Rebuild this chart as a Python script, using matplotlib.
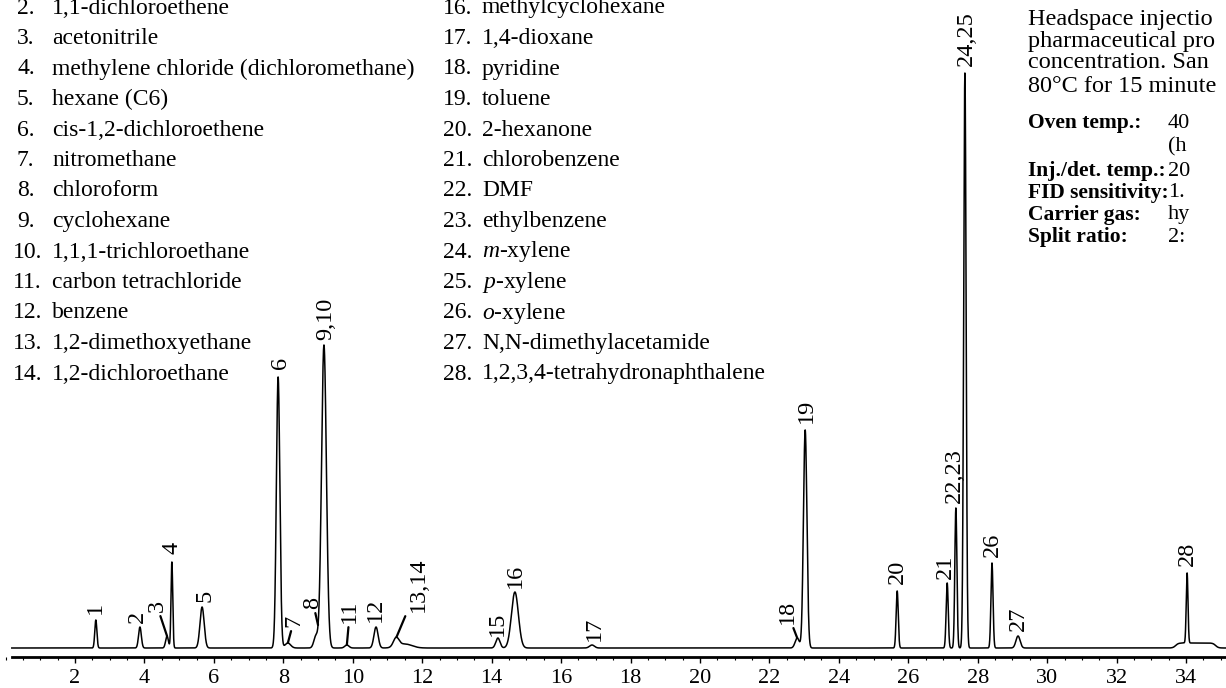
import numpy as np
import matplotlib
matplotlib.use("Agg")
import matplotlib.pyplot as plt
from matplotlib.ticker import MultipleLocator

plt.rcParams['font.family'] = ['Liberation Serif', 'DejaVu Serif']
plt.rcParams['mathtext.fontset'] = 'custom'
plt.rcParams['mathtext.it'] = 'Liberation Serif:italic'
plt.rcParams['mathtext.rm'] = 'Liberation Serif'

# ---------------- data ----------------
# chromatographic components: retention time (min), height (arb.), width sigma (min)
comp_rt = [2.60, 3.87, 4.65, 4.79, 5.66, 7.85, 8.13, 8.94, 9.17, 9.83, 10.67,
           11.25, 11.50, 14.18, 14.67, 16.89, 22.80, 23.03, 25.68, 27.12,
           27.37, 27.63, 28.41, 29.16, 34.03]
comp_h = [28, 21, 12, 86, 41, 271, 5, 12, 303, 3, 21,
          9, 4, 10, 56, 3, 10, 218, 57, 65,
          140, 575, 85, 12, 70]
comp_sigma = [0.030, 0.040, 0.040, 0.025, 0.060, 0.050, 0.080, 0.060, 0.070, 0.060, 0.060,
              0.080, 0.200, 0.060, 0.100, 0.070, 0.060, 0.050, 0.030, 0.030,
              0.030, 0.035, 0.030, 0.060, 0.025]
# broad low plateau under peak 28
hump_start, hump_end, hump_h = 33.70, 34.85, 5

# peak labels and the retention time they point to
label_text = ['1', '2', '3', '4', '5', '6', '7', '8', '9,10', '11', '12', '13,14',
              '15', '16', '17', '18', '19', '20', '21', '22,23', '24,25', '26', '27', '28']
label_rt = [2.60, 3.87, 4.65, 4.79, 5.66, 7.85, 8.13, 8.94, 9.17, 9.83, 10.67, 11.25,
            14.18, 14.67, 16.89, 22.80, 23.03, 25.68, 27.12, 27.37, 27.63, 28.41, 29.16, 34.03]

x_ticks = list(range(2, 35, 2))

legend_col1 = [('2.', '1,1-dichloroethene'), ('3.', 'acetonitrile'),
               ('4.', 'methylene chloride (dichloromethane)'), ('5.', 'hexane (C6)'),
               ('6.', 'cis-1,2-dichloroethene'), ('7.', 'nitromethane'),
               ('8.', 'chloroform'), ('9.', 'cyclohexane'),
               ('10.', '1,1,1-trichloroethane'), ('11.', 'carbon tetrachloride'),
               ('12.', 'benzene'), ('13.', '1,2-dimethoxyethane'),
               ('14.', '1,2-dichloroethane')]
legend_col2 = [('16.', 'methylcyclohexane'), ('17.', '1,4-dioxane'), ('18.', 'pyridine'),
               ('19.', 'toluene'), ('20.', '2-hexanone'), ('21.', 'chlorobenzene'),
               ('22.', 'DMF'), ('23.', 'ethylbenzene'), ('24.', r'$\mathit{m}$-xylene'),
               ('25.', r'$\mathit{p}$-xylene'), ('26.', r'$\mathit{o}$-xylene'),
               ('27.', 'N,N-dimethylacetamide'), ('28.', '1,2,3,4-tetrahydronaphthalene')]

desc_lines = ['Headspace injectio', 'pharmaceutical pro', 'concentration. San',
              '80°C for 15 minute']
cond_labels = ['Oven temp.:', '', 'Inj./det. temp.:', 'FID sensitivity:', 'Carrier gas:',
               'Split ratio:']
cond_values = ['40', '(h', '20', '1.', 'hy', '2:']

# ---------------- layout ----------------
W, H = 1226, 688
t_left, t_right = -0.16, 35.15
t_start = 0.18

# label offsets in pixels (dx, dy) from anchor
label_off = {'1': (0, 6), '2': (-3, 4), '3': (-10, 24), '4': (0, 8), '5': (3, 5),
             '6': (2, 8), '7': (6, 16), '8': (-5, 16), '9,10': (2, 5), '11': (3, 22),
             '12': (-1, 5), '13,14': (22, 25), '15': (-1, 2), '16': (0, 4), '17': (2, 4),
             '18': (-10, 14), '19': (1, 7), '20': (0, 7), '21': (-2, 4), '22,23': (-1, 5),
             '24,25': (1, 7), '26': (0, 6), '27': (0, 5), '28': (0, 7)}
leader = {'3', '7', '8', '11', '13,14', '18'}

fig = plt.figure(figsize=(W / 100, H / 100), dpi=100)
ax = fig.add_axes([0, (H - 657) / H, 1, 657 / H])
ax.set_xlim(t_left, t_right)
ax.set_ylim(-9, 648)

t = np.linspace(t_start, t_right, 30000)
sig = np.zeros_like(t)
for rt, h, s in zip(comp_rt, comp_h, comp_sigma):
    sig += h * np.exp(-0.5 * ((t - rt) / s) ** 2)
edge = 0.04
sig += hump_h / (1 + np.exp(-(t - hump_start) / edge)) / (1 + np.exp((t - hump_end) / edge))

ax.plot(t, sig, color='black', lw=1.1, solid_joinstyle='round')

LFS = 17.5
for txt, rt in zip(label_text, label_rt):
    m = (t > rt - 0.06) & (t < rt + 0.06)
    i = np.argmax(sig[m])
    tt, yy = t[m][i], sig[m][i]
    dx, dy = label_off[txt]
    if txt in leader:
        ax.annotate(txt, xy=(tt, yy), xytext=(dx, dy), textcoords='offset pixels',
                    rotation=90, ha='center', va='bottom', fontsize=LFS,
                    arrowprops=dict(arrowstyle='-', color='black', lw=1.6,
                                    shrinkA=1, shrinkB=0))
    else:
        ax.annotate(txt, xy=(tt, yy), xytext=(dx, dy), textcoords='offset pixels',
                    rotation=90, ha='center', va='bottom', fontsize=LFS)

for side in ['top', 'left', 'right']:
    ax.spines[side].set_visible(False)
ax.spines['bottom'].set_linewidth(2.0)
ax.spines['bottom'].set_bounds(t_start, t_right)
ax.set_yticks([])
ax.set_xticks(x_ticks)
ax.set_xticklabels([str(v) for v in x_ticks], fontsize=16)
ax.xaxis.set_minor_locator(MultipleLocator(0.5))
ax.tick_params(axis='x', which='major', direction='out', length=4, width=1.0, pad=4.5)
ax.tick_params(axis='x', which='minor', direction='out', length=2.5, width=0.8)

def ftext(x, y, s, **kw):
    fig.text(x / W, 1 - y / H, s, va='center', **kw)

row0, dy = 8, 30.5
for k, (num, name) in enumerate(legend_col1):
    y = row0 + dy * k
    ftext(17 if len(num) == 2 else 13, y, num, fontsize=17)
    ftext(52, y, name, fontsize=17)
for k, (num, name) in enumerate(legend_col2):
    y = row0 + dy * k
    ftext(443, y, num, fontsize=17)
    ftext(482, y, name, fontsize=17)

desc_y = [20, 42, 63, 86]
for y, s in zip(desc_y, desc_lines):
    ftext(1028, y, s, fontsize=17.5)
cond_y = [123, 147, 171, 193, 215, 237]
for y, lab, val in zip(cond_y, cond_labels, cond_values):
    if lab:
        ftext(1028, y, lab, fontsize=15.5, fontweight='bold')
    ftext(1168, y, val, fontsize=16)

fig.savefig('out.png', dpi=100, facecolor='white')
